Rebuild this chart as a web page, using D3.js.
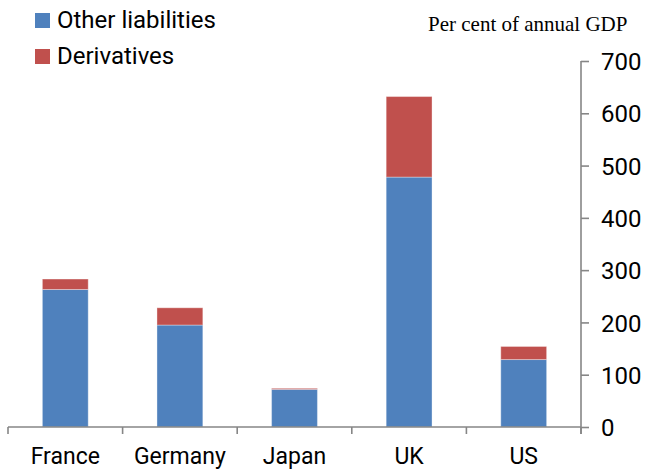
<!DOCTYPE html>
<html>
<head>
<meta charset="utf-8">
<script src="https://cdn.jsdelivr.net/npm/d3@7"></script>
<style>
  html, body { margin: 0; padding: 0; background: #fff; }
  svg { display: block; }
</style>
</head>
<body>
<svg id="chart" width="646" height="472"></svg>
<script>
// ---- data ----
const categories = ["France", "Germany", "Japan", "UK", "US"];
const otherLiabilities = [263, 195, 72, 478, 129];
const derivatives = [20, 33, 2, 154, 25];
const seriesNames = ["Other liabilities", "Derivatives"];
const yTicks = [0, 100, 200, 300, 400, 500, 600, 700];
const unitLabel = "Per cent of annual GDP";

// ---- layout ----
const W = 646, H = 472;
const colors = ["#4F81BD", "#C0504D"];
const axisColor = "#868686";
const sans = "Roboto, 'Open Sans', sans-serif";

const svg = d3.select("#chart");

const x = d3.scaleBand().domain(categories).range([8, 581]).paddingInner(0.6).paddingOuter(0.3);
const y = d3.scaleLinear().domain([0, 700]).range([427, 61]);

const rows = categories.map((c, i) => ({ cat: c, other: otherLiabilities[i], deriv: derivatives[i] }));
const stack = d3.stack().keys(["other", "deriv"])(rows);

// bars
svg.append("g").selectAll("g").data(stack).join("g")
  .attr("fill", (d, i) => colors[i])
  .selectAll("rect").data(d => d).join("rect")
  .attr("x", d => x(d.data.cat))
  .attr("width", x.bandwidth())
  .attr("y", d => y(d[1]))
  .attr("height", d => y(d[0]) - y(d[1]))
  .attr("stroke", "#ffffff")
  .attr("stroke-opacity", 0.35)
  .attr("stroke-width", 1);

// x axis line and boundary ticks
const half = (x.step() - x.bandwidth()) / 2;
const bounds = categories.map(c => x(c) - half).concat([x(categories[categories.length - 1]) + x.bandwidth() + half]);
const gx = svg.append("g");
gx.append("line")
  .attr("x1", bounds[0]).attr("x2", bounds[bounds.length - 1])
  .attr("y1", y(0)).attr("y2", y(0))
  .attr("stroke", axisColor).attr("stroke-width", 1.6);
gx.selectAll("line.tick").data(bounds).join("line")
  .attr("class", "tick")
  .attr("x1", d => d).attr("x2", d => d)
  .attr("y1", y(0)).attr("y2", y(0) + 7)
  .attr("stroke", axisColor).attr("stroke-width", 1.6);

// x labels via axis
const xAxis = d3.axisBottom(x).tickSize(0).tickPadding(0);
const gxl = svg.append("g").attr("transform", `translate(0,${y(0)})`).call(xAxis);
gxl.select(".domain").remove();
gxl.selectAll("text")
  .attr("y", 37).attr("dy", 0)
  .attr("font-family", sans).attr("font-size", 23).attr("fill", "#000");

// y axis on the right
const yAxis = d3.axisRight(y).tickValues(yTicks).tickSize(8).tickPadding(12).tickSizeOuter(0);
const gy = svg.append("g").attr("transform", `translate(581,0)`).call(yAxis);
gy.select(".domain").attr("stroke", axisColor).attr("stroke-width", 1.6)
  .attr("d", `M0,${y(700)}V${y(0) + 7}`);
gy.selectAll(".tick line").attr("stroke", axisColor).attr("stroke-width", 1.6);
gy.selectAll(".tick text")
  .attr("font-family", sans).attr("font-size", 24).attr("fill", "#000")
  .attr("dy", "0.36em");

// unit label
svg.append("text")
  .attr("x", 428).attr("y", 31)
  .attr("font-family", "'Liberation Serif', 'Times New Roman', serif")
  .attr("font-size", 21).attr("fill", "#000")
  .text(unitLabel);

// legend
const leg = svg.append("g");
seriesNames.forEach((name, i) => {
  const yy = 13 + i * 36;
  leg.append("rect").attr("x", 35).attr("y", yy).attr("width", 15).attr("height", 15).attr("fill", colors[i]);
  leg.append("text").attr("x", 57).attr("y", yy + 14.5)
    .attr("font-family", sans).attr("font-size", 24).attr("fill", "#000")
    .text(name);
});
</script>
</body>
</html>
